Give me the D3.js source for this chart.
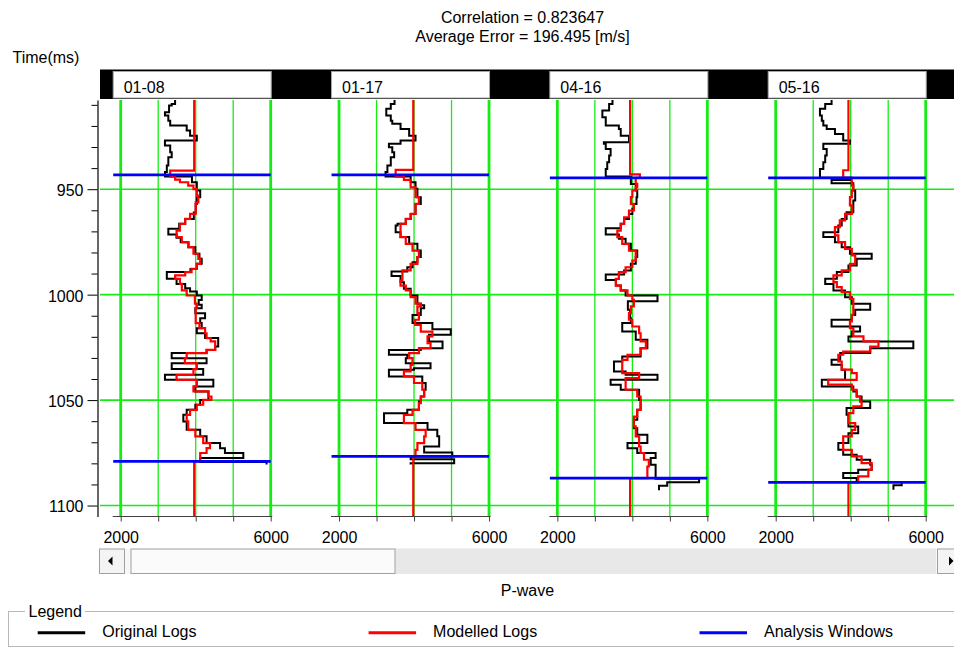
<!DOCTYPE html>
<html lang="en">
<head>
    <meta charset="UTF-8">
    <title>P-wave Log Correlation</title>
    <script src="https://cdnjs.cloudflare.com/ajax/libs/d3/7.9.0/d3.min.js"></script>
    <style>
        body {
            margin: 0;
            background: #ffffff;
            font-family: "Liberation Sans", Arial, sans-serif;
        }
        svg text {
            font-family: "Liberation Sans", Arial, sans-serif;
            font-size: 16px;
            fill: #000;
        }
    </style>
</head>
<body>
<div id="chart"></div>
<script>
    // wells and analysis windows (ms)
    const wells = ["01-08", "01-17", "04-16", "05-16"];
    const windows = [[943.2, 1079.1], [943.2, 1076.7], [944.6, 1087.0], [944.6, 1089.0]];
    const timeTicks = [950, 1000, 1050, 1100];
    const pTicks = [2000, 3000, 4000, 5000, 6000];
    const pLabels = [2000, 6000];
    const legendLabels = ["Original Logs", "Modelled Logs", "Analysis Windows"];
    const titleLines = ["Correlation = 0.823647", "Average Error = 196.495 [m/s]"];

    // [time ms, P-wave m/s] step samples, value holds until next time
    const orig0108 = [[907.7,3450],[909.6,3360],[910.3,3290],[913.5,3180],[915.1,3270],[917.5,3320],[919.8,3760],[922.2,3850],[924.6,4030],[926.9,3180],[929.3,3320],[932.5,3360],[934.8,3270],[938.8,3230],[941.9,3180],[944.0,3900],[946.7,4030],[950.6,4120],[953.8,4030],[957.0,4000],[961.0,3950],[964.1,3720],[966.4,3560],[968.8,3270],[971.5,3490],[973.0,3600],[975.1,3810],[977.5,3990],[980.6,4100],[983.0,4160],[985.4,4030],[987.8,3860],[989.3,3230],[992.5,3490],[994.9,3720],[997.0,3850],[998.5,4030],[1000.4,4160],[1002.5,4080],[1004.8,4160],[1006.4,3990],[1008.8,4250],[1011.2,4120],[1013.5,4160],[1015.9,4030],[1018.3,4250],[1020.6,4600],[1024.6,4520],[1026.2,4290],[1027.7,3360],[1030.1,4290],[1032.5,3360],[1035.3,4200],[1038.0,3180],[1040.4,4470],[1043.5,3990],[1045.9,4340],[1049.9,4120],[1052.2,3990],[1054.6,3760],[1057.0,3670],[1060.1,3760],[1064.1,4120],[1067.2,4290],[1070.4,4650],[1072.8,4780],[1075.1,5270],[1077.5,4120],[1079.3,5890],[1080.5,5890]];
    const model0108 = [[907.7,3960],[941.2,3320],[944.0,3450],[945.5,3580],[946.7,3800],[948.3,3940],[950.0,4030],[953.0,4070],[956.2,4000],[961.7,3850],[964.1,3720],[966.4,3580],[969.6,3490],[972.7,3630],[975.1,3800],[977.5,3940],[980.6,4070],[983.0,4120],[985.4,4030],[987.8,3890],[989.3,3720],[990.9,3450],[992.5,3580],[994.9,3630],[998.0,3760],[1000.4,3980],[1004.3,4030],[1006.4,4000],[1013.5,4100],[1015.9,4250],[1018.3,4290],[1020.6,4400],[1022.2,4520],[1026.2,4290],[1027.7,3760],[1030.1,3710],[1032.5,4030],[1035.3,3940],[1038.0,3490],[1040.4,4030],[1043.5,3940],[1045.9,4340],[1048.3,4420],[1049.9,4200],[1052.2,4030],[1054.6,3850],[1057.0,3760],[1060.1,3800],[1064.1,3990],[1067.2,4200],[1070.4,4380],[1072.8,4290],[1075.1,4120],[1079.1,3960],[1105.2,3960]];

    const orig0117 = [[907.7,3480],[909.6,3380],[911.9,3260],[915.1,3380],[917.5,3420],[919.0,3640],[921.4,3870],[924.6,4040],[926.9,3640],[928.5,3330],[930.1,3420],[932.5,3470],[934.8,3380],[938.8,3290],[941.9,3240],[944.0,3910],[946.7,4040],[949.8,4090],[953.8,4180],[957.0,4040],[961.7,3910],[964.1,3780],[966.4,3560],[967.2,3510],[970.4,3640],[972.7,3870],[975.9,4090],[979.1,4180],[982.2,4090],[984.6,3960],[987.0,3820],[989.0,3400],[991.2,3640],[994.1,3730],[997.2,3910],[1000.4,4090],[1004.3,4180],[1005.0,4270],[1006.4,4180],[1009.6,3960],[1013.5,4490],[1016.4,4980],[1019.0,4400],[1022.2,4760],[1025.4,4180],[1026.2,3330],[1028.5,3820],[1030.1,3780],[1032.5,4440],[1034.9,4000],[1035.6,3330],[1038.8,4220],[1041.9,4310],[1045.1,4270],[1048.3,4180],[1050.7,4130],[1054.6,3820],[1056.2,3200],[1060.9,4360],[1064.1,4620],[1067.2,4670],[1072.0,4270],[1074.8,5020],[1076.7,3910],[1078.0,5070],[1079.9,3910],[1080.5,3910]];
    const model0117 = [[907.7,3980],[940.8,3510],[944.0,3730],[945.6,3910],[949.1,4040],[953.8,4130],[957.0,4040],[961.7,3910],[964.1,3780],[966.4,3640],[972.7,3780],[975.9,3960],[979.1,4130],[982.2,4090],[985.4,3910],[988.5,3690],[993.3,3640],[995.7,3780],[998.0,3910],[1001.2,4040],[1004.3,4180],[1005.6,4090],[1008.8,4130],[1011.9,4030],[1014.3,4180],[1017.5,4490],[1019.8,4360],[1023.0,4440],[1025.4,4130],[1027.7,3870],[1030.1,3960],[1033.3,3910],[1036.4,3730],[1038.8,4000],[1041.9,4220],[1045.1,4270],[1048.3,4180],[1051.4,4130],[1054.6,3960],[1057.0,3730],[1060.9,4040],[1064.1,4310],[1067.2,4270],[1070.4,4090],[1073.6,4040],[1076.7,3980],[1105.2,3980]];

    const orig0416 = [[907.7,3470],[909.6,3380],[912.7,3200],[915.9,3290],[919.8,3640],[921.4,3690],[924.6,3910],[927.7,3240],[928.5,3290],[930.9,3420],[934.0,3380],[937.2,3330],[940.4,3290],[944.0,3960],[947.5,4090],[950.6,4130],[953.8,4110],[957.0,4040],[959.3,4000],[961.7,3910],[964.1,3780],[966.4,3690],[968.5,3290],[971.5,3640],[973.5,3820],[975.9,3960],[979.1,4130],[982.2,4090],[985.4,3960],[988.5,3780],[990.4,3290],[993.0,3560],[995.7,3690],[998.0,3820],[1000.4,4670],[1003.1,3880],[1007.2,3940],[1011.2,3960],[1013.5,3730],[1017.5,4090],[1021.4,4400],[1025.4,4220],[1029.3,3730],[1031.7,3510],[1036.4,3820],[1038.0,4670],[1040.4,3420],[1042.7,3690],[1045.1,4180],[1049.9,4220],[1054.6,4130],[1059.3,4040],[1063.3,4130],[1066.4,4400],[1070.4,3870],[1072.8,4130],[1075.1,4620],[1077.5,4490],[1080.7,4620],[1087.3,5780],[1089.0,4930],[1090.6,4710],[1092.8,4710]];
    const model0416 = [[907.7,3940],[943.0,4200],[944.6,4090],[947.5,4130],[949.1,4090],[950.6,4000],[953.8,3960],[957.0,4040],[960.1,3910],[963.3,3780],[966.4,3690],[969.6,3600],[972.7,3730],[975.9,3910],[979.1,4090],[983.8,4000],[987.0,3820],[989.3,3640],[992.5,3560],[995.7,3690],[998.0,3870],[1000.4,4000],[1002.5,4040],[1005.6,3960],[1008.8,3910],[1011.9,4000],[1015.1,4180],[1018.3,4220],[1022.2,4360],[1025.4,4220],[1028.5,3870],[1030.9,3730],[1037.2,4180],[1039.6,3820],[1045.1,4130],[1048.3,4220],[1054.6,4130],[1057.8,4040],[1062.5,4090],[1067.2,4180],[1072.0,4220],[1075.1,4310],[1078.3,4440],[1081.5,4400],[1087.0,3940],[1105.2,3940]];

    const orig0516 = [[907.7,3490],[909.6,3320],[911.9,3180],[915.1,3230],[917.5,3270],[919.8,3360],[921.4,3580],[923.8,3800],[926.9,3980],[928.5,3270],[930.9,3360],[934.0,3320],[937.2,3270],[940.4,3180],[944.6,4000],[945.6,3490],[947.2,4070],[950.6,4120],[955.4,4070],[960.9,3890],[964.1,3760],[967.2,3670],[970.4,3270],[972.7,3580],[975.1,3760],[977.5,3980],[980.6,4560],[983.0,4160],[986.2,3940],[989.3,3630],[992.5,3320],[994.9,3540],[998.0,3850],[1001.2,4030],[1004.3,4520],[1007.2,4120],[1009.6,4030],[1011.9,3490],[1015.1,4250],[1017.5,4030],[1019.8,3940],[1022.2,5670],[1025.4,4520],[1027.7,3720],[1030.9,3490],[1033.3,3760],[1035.6,3850],[1040.4,3230],[1043.5,4070],[1045.9,4160],[1048.3,4290],[1050.7,4520],[1053.8,3890],[1057.0,3940],[1062.5,4200],[1065.7,3940],[1070.4,3670],[1073.6,3800],[1075.9,4160],[1078.3,4520],[1080.7,4560],[1083.0,4200],[1084.6,3800],[1087.0,4160],[1088.8,5360],[1090.4,5140],[1092.5,5140]];
    const model0516 = [[907.7,3940],[941.0,3800],[944.6,4030],[948.3,4070],[950.6,4030],[953.8,3980],[957.7,4030],[961.7,3850],[964.8,3710],[968.0,3580],[971.9,3670],[975.1,3850],[978.3,4030],[981.4,4120],[985.4,3980],[988.5,3760],[990.9,3540],[994.1,3630],[996.4,3760],[998.8,3980],[1002.0,4070],[1009.6,4030],[1012.7,3980],[1015.9,4070],[1019.8,4340],[1022.2,4740],[1024.6,4520],[1027.0,3800],[1028.5,3670],[1031.7,3760],[1035.6,4030],[1037.2,4160],[1040.4,3400],[1042.7,4030],[1045.1,4160],[1048.3,4250],[1050.7,4290],[1053.0,4070],[1056.2,3940],[1060.9,4120],[1064.1,4030],[1067.2,3800],[1073.6,4030],[1076.7,4290],[1079.9,4560],[1083.0,4470],[1086.2,4200],[1089.0,3940],[1105.2,3940]];

    const originals = [orig0108, orig0117, orig0416, orig0516];
    const modelled = [model0108, model0117, model0416, model0516];

    const width = 954;
    const height = 648;
    const green = "#14ec14";
    const legendColors = ["#000000", "#ff0000", "#0000ff"];

    const svg = d3.select("#chart")
        .append("svg")
        .attr("width", width)
        .attr("height", height);

    const y = d3.scaleLinear().domain([907.7, 1105.2]).range([100, 516.5]);
    const trackLeft = d3.scaleLinear().domain([0, wells.length - 1]).range([120.7, 775.7]);
    const trackWidth = 150;
    const plotLeft = 100;

    // title
    svg.selectAll(".title")
        .data(titleLines)
        .join("text")
        .attr("x", 522.5)
        .attr("y", (d, i) => 23 + i * 18.5)
        .attr("text-anchor", "middle")
        .text(d => d);

    svg.append("text").attr("x", 12.5).attr("y", 62.5).text("Time(ms)");

    // horizontal time grid
    svg.selectAll(".hgrid")
        .data(timeTicks)
        .join("line")
        .attr("x1", plotLeft).attr("x2", width)
        .attr("y1", d => y(d)).attr("y2", d => y(d))
        .attr("stroke", green)
        .attr("stroke-width", 1.6);

    wells.forEach((name, i) => {
        const left = trackLeft(i);
        const x = d3.scaleLinear().domain([2000, 6000]).range([left, left + trackWidth]);
        const g = svg.append("g");

        g.selectAll(".vgrid")
            .data(pTicks)
            .join("line")
            .attr("x1", d => x(d)).attr("x2", d => x(d))
            .attr("y1", y.range()[0]).attr("y2", y.range()[1])
            .attr("stroke", green)
            .attr("stroke-width", d => pLabels.includes(d) ? 2.8 : 1.3);

        const line = d3.line()
            .x(d => x(d[1]))
            .y(d => y(d[0]))
            .curve(d3.curveStepBefore);

        g.append("path")
            .attr("d", line(originals[i]))
            .attr("fill", "none")
            .attr("stroke", "#000")
            .attr("stroke-width", 2);

        g.append("path")
            .attr("d", line(modelled[i]))
            .attr("fill", "none")
            .attr("stroke", "#ff0000")
            .attr("stroke-width", 2.2);

        g.selectAll(".win")
            .data(windows[i])
            .join("line")
            .attr("x1", left - 7.5).attr("x2", x(6000))
            .attr("y1", d => y(d)).attr("y2", d => y(d))
            .attr("stroke", "#0000ff")
            .attr("stroke-width", 2.8);

        // bottom P-wave axis
        const ax = g.append("g")
            .attr("transform", `translate(0,${y.range()[1]})`)
            .call(d3.axisBottom(x)
                .tickValues(pTicks)
                .tickSize(5)
                .tickPadding(10)
                .tickFormat(d => pLabels.includes(d) ? d : ""));
        ax.select(".domain").remove();
        ax.selectAll("line").attr("stroke", "#404040");
        ax.selectAll("text").attr("font-size", 16).attr("font-family", null);
        ax.append("line")
            .attr("x1", left - 8).attr("x2", x(6000) + 1.5)
            .attr("stroke", "#404040")
            .attr("stroke-width", 1.2);
    });

    // header bar with well names
    svg.append("rect")
        .attr("x", plotLeft).attr("y", 69.5)
        .attr("width", width - plotLeft).attr("height", 29.5)
        .attr("fill", "#000");

    const heads = svg.selectAll(".head")
        .data(wells)
        .join("g")
        .attr("transform", (d, i) => `translate(${trackLeft(i) - 7.5},71.5)`);
    heads.append("rect")
        .attr("width", 158).attr("height", 26.5)
        .attr("fill", "#fff")
        .attr("stroke", "#a8a8a8");
    heads.append("text")
        .attr("x", 10.5).attr("y", 21)
        .text(d => d);

    // time axis
    const minorTicks = d3.range(910, 1101, 10).filter(d => !timeTicks.includes(d));
    const yMinor = svg.append("g")
        .attr("transform", "translate(97.5,0)")
        .call(d3.axisLeft(y).tickValues(minorTicks).tickSize(6).tickSizeOuter(0).tickFormat(""));
    yMinor.select(".domain").attr("stroke", "#000").attr("stroke-width", 1.2);

    const yMajor = svg.append("g")
        .attr("transform", "translate(97.5,0)")
        .call(d3.axisLeft(y).tickValues(timeTicks).tickSize(10).tickPadding(4).tickFormat(d3.format("d")));
    yMajor.select(".domain").remove();
    yMajor.selectAll("text").attr("font-size", 16).attr("font-family", null).attr("dy", "0.4em");

    // scroll bar
    const sb = svg.append("g").attr("transform", "translate(99,548.5)");
    sb.append("rect").attr("width", width - 99).attr("height", 25.5).attr("fill", "#f7f7f7");
    sb.append("rect").attr("x", 296).attr("width", 541).attr("height", 25.5).attr("fill", "#e8e8e8");
    sb.append("rect").attr("x", 0.5).attr("y", 0.5).attr("width", 25).attr("height", 24.5)
        .attr("fill", "#f4f4f4").attr("stroke", "#a0a0a0");
    sb.append("path").attr("d", "M9,12.5L13.5,8V17Z").attr("fill", "#000");
    sb.append("rect").attr("x", 32).attr("y", 0.5).attr("width", 264).attr("height", 24.5)
        .attr("fill", "#fbfbfb").attr("stroke", "#a0a0a0");
    sb.append("rect").attr("x", 838.5).attr("y", 0.5).attr("width", 20).attr("height", 24.5)
        .attr("fill", "#f4f4f4").attr("stroke", "#a0a0a0");
    sb.append("path").attr("d", "M850,8L854.5,12.5L850,17Z").attr("fill", "#000");

    svg.append("text")
        .attr("x", 527.4).attr("y", 596)
        .attr("text-anchor", "middle")
        .text("P-wave");

    // legend group box
    svg.append("rect")
        .attr("x", 8.5).attr("y", 611.5)
        .attr("width", 960).attr("height", 35)
        .attr("fill", "none")
        .attr("stroke", "#b8b8b8");
    svg.append("rect")
        .attr("x", 25).attr("y", 604)
        .attr("width", 60).attr("height", 14)
        .attr("fill", "#fff");
    svg.append("text").attr("x", 28.5).attr("y", 616.5).text("Legend");

    const legendX = d3.scaleLinear().domain([0, legendLabels.length - 1]).range([37.7, 699.5]);
    const items = svg.selectAll(".legend-item")
        .data(legendLabels)
        .join("g")
        .attr("transform", (d, i) => `translate(${legendX(i)},632.7)`);
    items.append("line")
        .attr("x2", 47.5)
        .attr("stroke", (d, i) => legendColors[i])
        .attr("stroke-width", 3);
    items.append("text")
        .attr("x", 64.5).attr("y", 4.5)
        .text(d => d);
</script>
</body>
</html>
